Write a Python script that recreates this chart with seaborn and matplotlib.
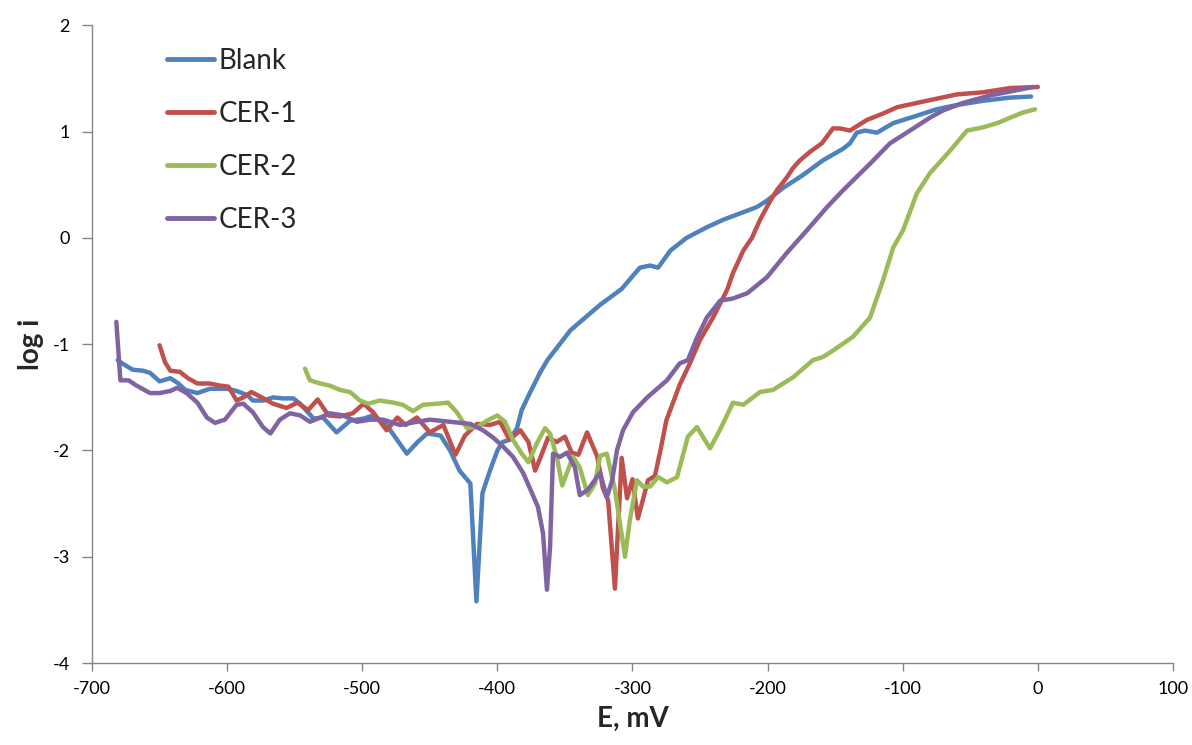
import matplotlib
matplotlib.use("Agg")
import matplotlib.pyplot as plt
import seaborn as sns
import pandas as pd

# Potentiodynamic polarisation curves: potential E (mV) vs log i
blank_E = [-681, -679, -670, -662, -657, -650, -642, -636, -631, -622, -613, -600, -593, -585,
           -581, -573, -566, -559, -551, -546, -536, -529, -519, -509, -499, -492, -482, -467,
           -459, -452, -442, -435, -428, -420, -415.5, -411, -405.5, -400, -396, -391, -385.5,
           -382, -376, -368.5, -363, -346, -324, -308, -294.5, -287, -281, -272, -260, -245,
           -233, -220.5, -208, -200.5, -188.6, -174, -159, -144, -139, -134, -128, -119, -107,
           -89.5, -75, -60, -40.6, -20.6, -5]
blank_y = [-1.15, -1.17, -1.24, -1.25, -1.27, -1.35, -1.32, -1.37, -1.43, -1.46, -1.42, -1.42,
           -1.44, -1.48, -1.53, -1.53, -1.50, -1.51, -1.51, -1.56, -1.70, -1.69, -1.83, -1.72,
           -1.70, -1.67, -1.76, -2.03, -1.92, -1.84, -1.86, -2.00, -2.19, -2.31, -3.42, -2.40,
           -2.19, -2.00, -1.92, -1.90, -1.79, -1.62, -1.46, -1.27, -1.15, -0.87, -0.63, -0.48,
           -0.28, -0.26, -0.28, -0.12, 0.00, 0.10, 0.17, 0.23, 0.29, 0.35, 0.47, 0.59, 0.73,
           0.84, 0.89, 0.99, 1.01, 0.99, 1.08, 1.15, 1.21, 1.25, 1.29, 1.32, 1.33]

cer1_E = [-650, -646, -642, -635, -629, -622, -613, -605, -599, -593, -588, -582, -573, -566,
          -556, -548, -540, -533, -525, -516.5, -507, -499, -492, -482, -474, -468, -459.5,
          -450, -440, -431, -424, -415, -405.5, -398, -391, -383, -377, -372, -367, -362.5,
          -356, -350, -345, -340, -333.6, -326, -322, -318, -313, -308, -304, -300, -296, -292,
          -288.5, -283.4, -279, -275, -270, -265, -257.5, -250, -240.4, -230, -225.6, -218,
          -211.6, -205.6, -198, -193, -185.7, -181, -176, -168.6, -159.8, -151.6, -146.4, -139,
          -126.5, -114.6, -104, -89.5, -74.7, -60, -40.6, -20.6, 0]
cer1_y = [-1.01, -1.17, -1.25, -1.26, -1.32, -1.37, -1.37, -1.39, -1.40, -1.53, -1.50, -1.45,
          -1.51, -1.56, -1.60, -1.55, -1.62, -1.52, -1.67, -1.68, -1.65, -1.56, -1.64, -1.81,
          -1.69, -1.76, -1.69, -1.83, -1.76, -2.04, -1.86, -1.75, -1.76, -1.73, -1.90, -1.81,
          -1.92, -2.19, -2.03, -1.88, -1.92, -1.87, -2.02, -2.04, -1.83, -2.06, -2.35, -2.47,
          -3.30, -2.07, -2.45, -2.27, -2.64, -2.45, -2.28, -2.24, -1.98, -1.72, -1.55, -1.38,
          -1.18, -0.96, -0.75, -0.49, -0.33, -0.12, 0.00, 0.17, 0.35, 0.45, 0.57, 0.66, 0.73,
          0.81, 0.89, 1.03, 1.03, 1.01, 1.11, 1.17, 1.23, 1.27, 1.31, 1.35, 1.37, 1.41, 1.42]

cer2_E = [-542.4, -538.7, -531, -524, -516.5, -509, -501.7, -495.7, -487, -477, -470, -462.4,
          -455, -444.7, -436.5, -430, -422.5, -415, -407.7, -400, -394.4, -388.4, -382, -377,
          -370.7, -364.7, -361, -356, -352, -348.5, -344, -339, -333, -327.7, -324, -319, -313,
          -305.5, -302, -296.7, -292.2, -287, -281, -274.5, -267, -259, -252.3, -242.6, -235,
          -225.6, -218, -205.6, -196, -181, -166.4, -159, -151.6, -136.8, -124.2, -114.6, -107,
          -99.8, -89.5, -79.8, -65, -52.4, -40.6, -30, -20.6, -11, -2]
cer2_y = [-1.23, -1.34, -1.37, -1.39, -1.43, -1.45, -1.53, -1.56, -1.53, -1.55, -1.57, -1.63,
          -1.57, -1.56, -1.55, -1.64, -1.79, -1.78, -1.72, -1.67, -1.73, -1.90, -2.03, -2.11,
          -1.93, -1.79, -1.84, -2.06, -2.33, -2.21, -2.06, -2.16, -2.42, -2.31, -2.05, -2.03,
          -2.37, -3.00, -2.66, -2.28, -2.34, -2.34, -2.25, -2.30, -2.25, -1.87, -1.78, -1.98,
          -1.80, -1.55, -1.57, -1.45, -1.43, -1.31, -1.15, -1.12, -1.06, -0.93, -0.75, -0.40,
          -0.09, 0.07, 0.42, 0.61, 0.82, 1.01, 1.04, 1.08, 1.13, 1.18, 1.21]

cer3_E = [-682, -679, -673, -667, -657, -650, -642, -637, -630, -622, -615, -609, -601.6, -593,
          -588, -581, -573.5, -568, -561, -553.5, -546, -538.7, -531, -524, -514.3, -504, -494,
          -484.6, -472, -459.5, -450, -435, -420, -410.6, -403, -396, -388.4, -381, -374.4, -370,
          -366.2, -363.3, -361, -358.8, -353.6, -348.5, -342.6, -339, -333, -324, -319, -315,
          -311.5, -307, -299.6, -289, -274.5, -265, -259, -252.3, -245, -235, -225.6, -215,
          -200.5, -185.7, -171, -156, -144, -124, -109.4, -94.6, -80, -70, -55.4, -35.4, -15.5,
          -3.6]
cer3_y = [-0.79, -1.34, -1.34, -1.39, -1.46, -1.46, -1.44, -1.41, -1.46, -1.55, -1.69, -1.74,
          -1.71, -1.57, -1.56, -1.64, -1.78, -1.84, -1.71, -1.65, -1.67, -1.73, -1.69, -1.65,
          -1.67, -1.73, -1.71, -1.71, -1.76, -1.73, -1.71, -1.73, -1.75, -1.81, -1.88, -1.96,
          -2.06, -2.21, -2.40, -2.53, -2.78, -3.31, -2.91, -2.03, -2.06, -2.02, -2.16, -2.42,
          -2.37, -2.21, -2.44, -2.28, -2.00, -1.81, -1.64, -1.50, -1.34, -1.18, -1.15, -0.94,
          -0.75, -0.59, -0.57, -0.52, -0.37, -0.14, 0.07, 0.29, 0.45, 0.70, 0.89, 1.01, 1.13,
          1.20, 1.27, 1.34, 1.39, 1.42]

series_names = ["Blank", "CER-1", "CER-2", "CER-3"]
series_colors = ["#4F81BD", "#C0504D", "#9BBB59", "#8064A2"]
x_ticks = [-700, -600, -500, -400, -300, -200, -100, 0, 100]
y_ticks = [-4, -3, -2, -1, 0, 1, 2]

frames = []
for name, E, y in zip(series_names, [blank_E, cer1_E, cer2_E, cer3_E],
                      [blank_y, cer1_y, cer2_y, cer3_y]):
    frames.append(pd.DataFrame({"E": E, "log_i": y, "series": name}))
df = pd.concat(frames, ignore_index=True)

sns.set_theme(style="white")
plt.rcParams["font.family"] = ["Lato", "DejaVu Sans"]
plt.rcParams["axes.unicode_minus"] = False

fig = plt.figure(figsize=(11.92, 7.45), dpi=100)
ax = fig.add_axes([0.0772, 0.110, 0.9068, 0.856])

sns.lineplot(data=df, x="E", y="log_i", hue="series", hue_order=series_names,
             palette=series_colors, sort=False, estimator=None, linewidth=3.2,
             solid_joinstyle="round", solid_capstyle="round", ax=ax, legend=True)

ax.set_xlim(-700, 100)
ax.set_ylim(-4, 2)
ax.set_xticks(x_ticks)
ax.set_yticks(y_ticks)
ax.tick_params(axis="both", which="major", direction="out", width=1,
               color="#868686", labelsize=13, labelcolor="#000000")
ax.tick_params(axis="x", bottom=True, length=6, pad=7)
ax.tick_params(axis="y", left=True, length=7, pad=9)
for side in ["top", "right"]:
    ax.spines[side].set_visible(False)
for side in ["left", "bottom"]:
    ax.spines[side].set_color("#868686")
    ax.spines[side].set_linewidth(1)

ax.set_xlabel("E, mV", fontsize=20, fontweight="bold", labelpad=6)
ax.set_ylabel("log i", fontsize=20, fontweight="bold", labelpad=6)

leg = ax.legend(loc="upper left", bbox_to_anchor=(0.046, 1.004), frameon=False,
                fontsize=20, handlelength=1.7, handletextpad=0.15, labelspacing=0.97)
for line in leg.get_lines():
    line.set_linewidth(3.5)
    line.set_solid_capstyle("round")

fig.savefig("out.png", dpi=100, facecolor="white")
